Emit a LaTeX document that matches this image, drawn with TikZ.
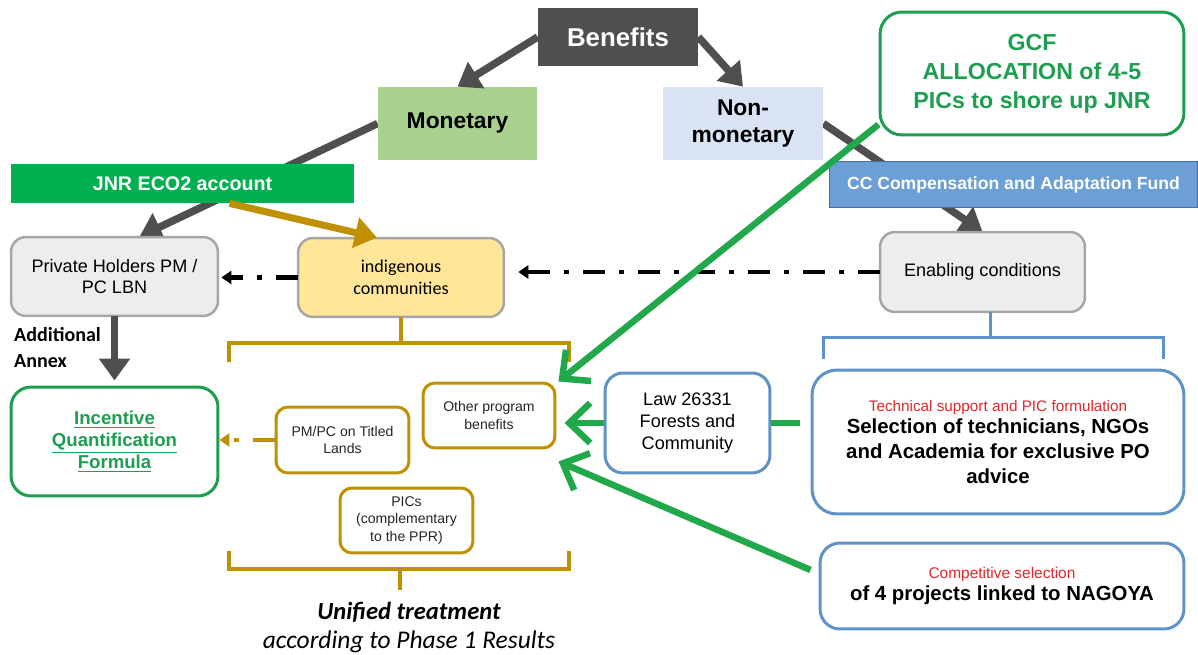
\documentclass[tikz,border=0pt]{standalone}
\usepackage{fontspec}
\setmainfont{Liberation Sans}
\newfontfamily\calib{Carlito}
\usetikzlibrary{arrows.meta,backgrounds}
\definecolor{dgrey}{HTML}{4F4F4F}
\definecolor{mgreen}{HTML}{A9D18E}
\definecolor{lblue}{HTML}{DAE3F3}
\definecolor{ggreen}{HTML}{1E9E50}
\definecolor{jgreen}{HTML}{00B050}
\definecolor{ccblue}{HTML}{6C9FD5}
\definecolor{ccborder}{HTML}{41719C}
\definecolor{lgrey}{HTML}{EDEDED}
\definecolor{bgrey}{HTML}{A6A6A6}
\definecolor{lyellow}{HTML}{FFE699}
\definecolor{gold}{HTML}{BF9000}
\definecolor{lawblue}{HTML}{5F93C8}
\definecolor{tred}{HTML}{E0282E}
\definecolor{lgreen}{HTML}{20A84A}
\newcommand\myfs[2]{\fontsize{#1}{#2}\selectfont}
\begin{document}
\begin{tikzpicture}[x=0.02cm,y=-0.02cm,
  flatbox/.style={inner sep=2pt, align=center},
  greybox/.style={flatbox, fill=lgrey, draw=bgrey, line width=0.05cm, rounded corners=0.3cm, font=\myfs{10.3}{12}},
  goldbox/.style={flatbox, fill=white, draw=gold, line width=0.06cm, rounded corners=0.24cm, font=\myfs{8}{10}, text=black!85},
  bluebox/.style={flatbox, fill=white, draw=lawblue, line width=0.06cm},
  greyarrow/.style={draw=dgrey, line width=0.15cm, -{Triangle[length=0.44cm,width=0.6cm]}},
  goldarrow/.style={draw=gold, line width=0.14cm, -{Triangle[length=0.44cm,width=0.6cm]}},
  greenline/.style={draw=lgreen, line width=0.13cm},
  greenarrow/.style={greenline, -{Straight Barb[length=0.42cm,width=0.8cm]}},
  dashdot/.style={line width=0.09cm, dash pattern=on 0.44cm off 0.28cm on 0.1cm off 0.28cm, -{Triangle[length=0.2cm,width=0.26cm]}},
  bracket/.style={line width=0.08cm}
]
\path[use as bounding box] (0,0) rectangle (1198,655);

% top row
\node[flatbox, fill=dgrey, minimum width=3.2cm, minimum height=1.16cm, text=white, font=\myfs{14.7}{17}\bfseries] (benefits) at (618,37) {Benefits};
\node[flatbox, fill=mgreen, minimum width=3.18cm, minimum height=1.46cm, font=\myfs{13}{16}\bfseries] (monetary) at (457.5,123.5) {Monetary};
\node[flatbox, fill=lblue, minimum width=3.2cm, minimum height=1.46cm, font=\myfs{13}{15.9}\bfseries] (nonmon) at (743,123.5) {Non-\\monetary};
\node[flatbox, fill=white, draw=ggreen, line width=0.06cm, rounded corners=0.44cm, minimum width=6.08cm, minimum height=2.46cm, text=ggreen, font=\myfs{13.2}{16.4}\bfseries] (gcf) at (1032,73.5) {GCF\\ALLOCATION of 4-5\\PICs to shore up JNR};

% second row boxes
\node[flatbox, minimum width=4.14cm, minimum height=1.58cm] (private) at (114.5,276.5) {};
\node[flatbox, minimum width=4.12cm, minimum height=1.58cm] (indig) at (401,277.5) {};
\node[flatbox, minimum width=4.1cm, minimum height=1.6cm] (enabling) at (982.5,272) {};

\begin{pgfonlayer}{background}
\draw[greyarrow] (monetary.west) -- ([xshift=0.5cm]private.north);
\draw[greyarrow] (nonmon.east) -- (enabling.north);
\end{pgfonlayer}

\node[flatbox, fill=jgreen, minimum width=6.86cm, minimum height=0.78cm, text=white, font=\myfs{11.2}{13}\bfseries] (jnr) at (182.5,183.5) {JNR ECO2 account};
\node[flatbox, fill=ccblue, draw=ccborder, line width=0.02cm, minimum width=7.38cm, minimum height=0.94cm, text=white, font=\myfs{10}{12}\bfseries] (cc) at (1013.5,184.5) {CC Compensation and Adaptation Fund};

\node[greybox, minimum width=4.14cm, minimum height=1.58cm] at (private) {Private Holders PM /\\PC LBN};
\node[greybox, fill=lyellow, minimum width=4.12cm, minimum height=1.58cm, font=\calib\myfs{10.3}{12.5}] at (indig) {indigenous\\communities};
\node[greybox, minimum width=4.1cm, minimum height=1.6cm] at (enabling) {Enabling conditions};

\draw[greyarrow] (benefits.west) -- (monetary.north);
\draw[greyarrow] (benefits.east) -- (nonmon.north);
\draw[goldarrow] ([xshift=0.94cm]jnr.south) -- ([xshift=-0.48cm]indig.north);

% left column
\node[anchor=west, align=left, font=\calib\myfs{11.4}{14.8}\bfseries] (annex) at (8,348) {Additional\\Annex};
\node[flatbox, fill=white, draw=ggreen, line width=0.06cm, rounded corners=0.4cm, minimum width=4.14cm, minimum height=2.18cm, text=ggreen, font=\myfs{10.6}{12.6}\bfseries] (incentive) at (114.5,441.5) {\underline{Incentive}\\\underline{Quantification}\\\underline{Formula}};
\draw[greyarrow, shorten >=0.1cm] (private.south) -- (incentive.north);

% gold group
\node[goldbox, minimum width=2.66cm, minimum height=1.32cm] (pmpc) at (342.5,440) {PM/PC on Titled\\Lands};
\node[goldbox, minimum width=2.64cm, minimum height=1.3cm] (other) at (489,415.5) {Other program\\benefits};
\node[goldbox, minimum width=2.66cm, minimum height=1.3cm] (pics) at (406.5,520.5) {PICs\\(complementary\\to the PPR)};

\draw[bracket, draw=gold] (indig.south) -- (401,343);
\draw[bracket, draw=gold] (229,362) -- (229,343) -- (569,343) -- (569,362);
\draw[bracket, draw=gold] (229,551) -- (229,569) -- (569,569) -- (569,551);
\coordinate (unitop) at (400,590);
\draw[bracket, draw=gold] (400,569) -- (unitop);
\node[font=\calib\myfs{14}{16}\bfseries\itshape] (unified) at (409,612) {Unified treatment};
\node[font=\calib\myfs{14.5}{16}\itshape] (phase) at (409,642) {according to Phase 1 Results};

% dash-dot arrows
\draw[dashdot, shorten >=0.06cm] (indig.west) -- (indig.west -| private.east);
\draw[dashdot, shorten >=0.28cm] (enabling.west) -- (enabling.west -| indig.east);
\draw[dashdot, draw=gold, line width=0.08cm] (pmpc.west) -- (pmpc.west -| incentive.east);

% right column
\draw[bracket, draw=lawblue, line width=0.06cm] (990,312) -- (990,338);
\draw[bracket, draw=lawblue, line width=0.06cm] (823,359) -- (823,338) -- (1163,338) -- (1163,359);

\node[bluebox, rounded corners=0.36cm, minimum width=3.3cm, minimum height=2.0cm, font=\myfs{10.3}{12.5}] (law) at (687.5,423) {Law 26331\\Forests and\\Community};
\node[bluebox, rounded corners=0.5cm, minimum width=7.44cm, minimum height=2.88cm, font=\myfs{11.6}{14.2}\bfseries] (selection) at (998,442) {{\color{tred}\mdseries\myfs{8.7}{10}Technical support and PIC formulation}\\[-2pt]Selection of technicians, NGOs\\and Academia for exclusive PO\\advice};
\node[bluebox, rounded corners=0.4cm, minimum width=7.28cm, minimum height=1.72cm, font=\myfs{11.6}{14}\bfseries] (competitive) at (1002,586) {{\color{tred}\mdseries\myfs{8.8}{10}Competitive selection}\\[-2pt]of 4 projects linked to NAGOYA};

% green connectors
\draw[greenline] (law.east) -- ([xshift=-0.22cm]law.east -| selection.west);
\draw[greenarrow, shorten >=0.16cm] (law.west) -- (law.west -| other.east);
\draw[greenarrow] ([yshift=0.24cm]gcf.south west) -- ([shift={(2,0)}]other.north east);
\draw[greenarrow] ([shift={(-8,-16)}]competitive.west) -- ([shift={(2,12)}]other.south east);
\end{tikzpicture}
\end{document}
